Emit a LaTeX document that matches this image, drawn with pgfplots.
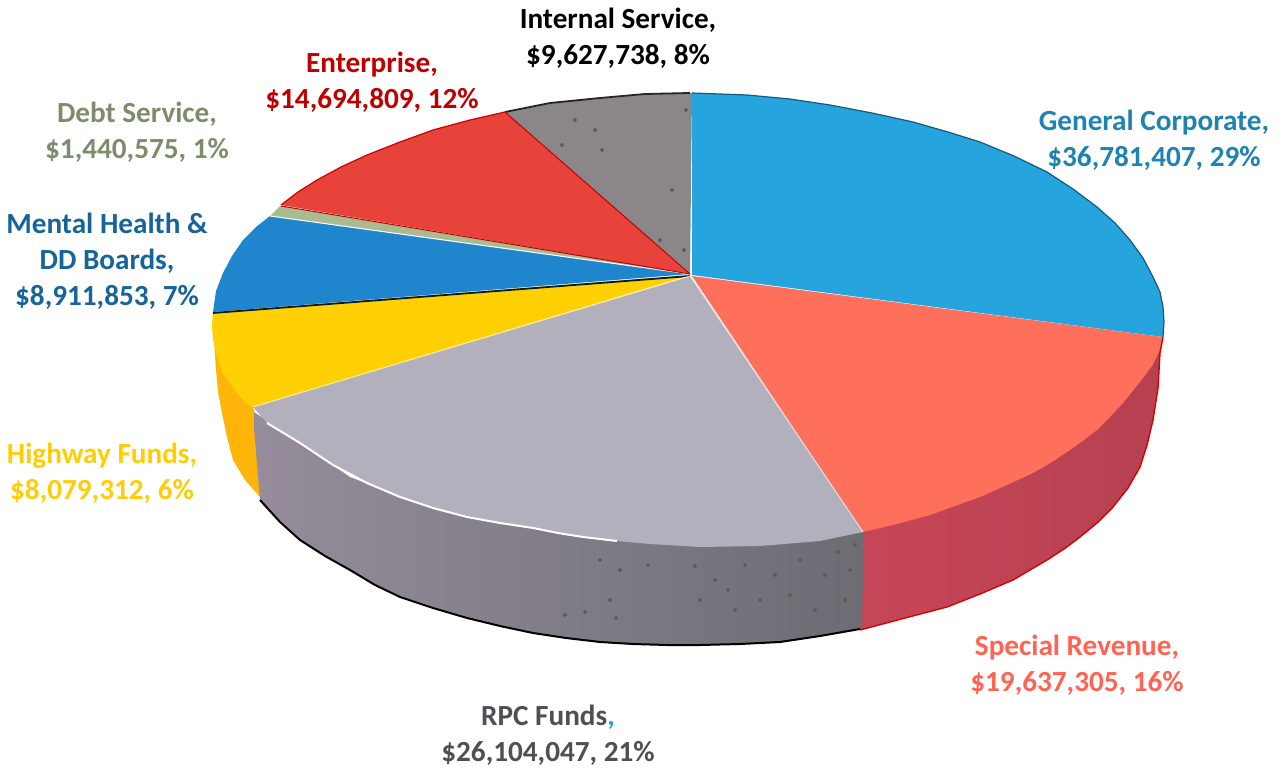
\documentclass[border=0pt]{standalone}
\usepackage{fontspec}
\setmainfont{Carlito}
\usepackage{pgfplots}
\pgfplotsset{compat=1.18}
\definecolor{cblue}{HTML}{25A4DD}
\definecolor{csalmon}{HTML}{FE6F5C}
\definecolor{cred}{HTML}{E8433A}
\definecolor{cgreyd}{HTML}{8B8689}
\definecolor{cgrey}{HTML}{B2B0BC}
\definecolor{cside}{HTML}{C64657}
\definecolor{cyell}{HTML}{FFD105}
\definecolor{corange}{HTML}{FFB40A}
\definecolor{cmh}{HTML}{1F86CE}
\definecolor{cdebt}{HTML}{A9BB8F}
\definecolor{csidel}{HTML}{968C9B}
\definecolor{csidem}{HTML}{8E8592}
\definecolor{csider}{HTML}{6B6D73}
\tikzset{lbl/.style={font=\fontsize{14.6}{18}\selectfont\bfseries, align=center, inner sep=0pt}}
\begin{document}
\begin{tikzpicture}
% everything is in reference pixels, y downwards
\begin{axis}[
  scale only axis, width=643pt, height=385pt,
  xmin=0, xmax=1286, ymin=0, ymax=770, y dir=reverse,
  hide axis, clip=false,
]
\path (axis cs:0,0) rectangle (axis cs:1286,770);
% sides
\addplot[fill=corange, draw=none] coordinates {(214,340) (216,370) (218,392) (222,413) (227,437) (233,460) (245,480) (260,497) (262,440) (253,407) (225,375)} --cycle;
\addplot[shade, left color=cside, right color=cside!92!black, draw=none] coordinates {(1163,337) (1160,353) (1158,388) (1153,420) (1147,445) (1140,467) (1128,488) (1113,507) (1097,523) (1080,537) (1064,549) (1047,560) (1030,570) (1013,580) (980,594) (947,607) (905,618) (860,630) (862,530)} --cycle;
\addplot[shade, left color=csidel, middle color=csidem, right color=csider, draw=none] coordinates {(254,412) (255,440) (260,500) (280,522) (300,540) (325,556) (350,570) (375,585) (400,597) (433,608) (467,618) (500,626) (533,633) (566,638) (600,642) (633,644) (667,645) (700,645) (740,644) (780,642) (820,636) (862,628) (864,530) (780,543) (700,546) (620,540) (500,522) (417,503) (350,477) (300,443)} --cycle;
% top faces
\addplot[fill=cblue, draw=none] coordinates {(692,275) (692,93) (720,94) (747,95) (790,99) (830,105) (872,113) (913,122) (948,132) (980,142) (1014,156) (1047,172) (1073,189) (1097,207) (1115,223) (1130,240) (1143,258) (1153,277) (1160,292) (1163,307) (1164,322) (1163,337)} --cycle;
\addplot[fill=csalmon, draw=none] coordinates {(692,276) (1163,337) (1160,350) (1152,366) (1140,382) (1123,403) (1110,417) (1097,430) (1084,440) (1070,450) (1052,462) (1033,473) (1007,485) (980,497) (955,506) (930,515) (897,524) (863,532)} --cycle;
\addplot[fill=cgrey, draw=none] coordinates {(690,276) (863,532) (820,541) (760,546) (700,547) (650,544) (617,541) (583,537) (558,533) (533,528) (500,523) (467,517) (433,508) (400,497) (367,483) (333,465) (300,443) (267,423) (253,407)} --cycle;
\addplot[fill=cyell, draw=none] coordinates {(690,275) (253,407) (248,405) (236,392) (223,373) (217,357) (213,340) (212,325) (213,312)} --cycle;
\addplot[fill=cmh, draw=none] coordinates {(690,274) (213,312) (216,291) (223,273) (232,256) (243,240) (256,227) (270,216)} --cycle;
\addplot[fill=cdebt, draw=none] coordinates {(690,274) (270,216) (280,206)} --cycle;
\addplot[fill=cred, draw=none] coordinates {(690,274) (281,205) (298,192) (317,180) (341,167) (367,155) (400,142) (433,130) (470,120) (505,112)} --cycle;
\addplot[fill=cgreyd, draw=none] coordinates {(690,274) (505,112) (550,103) (600,98) (645,94) (692,93)} --cycle;
% edges
\addplot[black!85, line width=0.9pt] coordinates {(505,112) (550,103) (600,98) (645,94) (690,93)};
\addplot[black!45!cblue, line width=0.6pt] coordinates {(692,93) (720,94) (747,95) (790,99) (830,105) (872,113) (913,122) (948,132) (980,142) (1014,156) (1047,172) (1073,189) (1097,207) (1115,223) (1130,240) (1143,258) (1153,277) (1160,292) (1163,307) (1164,322) (1163,337)};
\addplot[black!80!cmh, line width=0.9pt] coordinates {(213,313) (690,276)};
\addplot[white!60!cyell, line width=0.5pt] coordinates {(253,407) (690,276)};
\addplot[white!55!cgrey, line width=0.5pt] coordinates {(690,276) (863,532)};
\addplot[white, line width=0.5pt] coordinates {(270,216) (690,274)};
\addplot[red!80!black, line width=0.6pt] coordinates {(281,205) (298,192) (317,180) (341,167) (367,155) (400,142) (433,130) (470,120) (505,112)};
\addplot[red!75!black, line width=0.5pt] coordinates {(281,206) (690,274)};
\addplot[red!75!black, line width=0.5pt] coordinates {(505,112) (690,274)};
\addplot[white, line width=1pt] coordinates {(267,423) (300,443) (333,465) (367,483) (400,497) (433,508) (467,517) (500,523) (533,528) (558,533) (583,537) (617,541)};
\addplot[black, line width=1pt] coordinates {(260,500) (280,522) (300,540) (325,556) (350,570) (375,585) (400,597) (433,608) (467,618) (500,626) (533,633) (566,638) (600,642) (633,644) (667,645) (700,645) (740,644) (780,642) (820,636) (860,629)};
\addplot[red!85!black, line width=0.7pt] coordinates {(1163,337) (1160,353) (1158,388) (1153,420) (1147,445) (1140,467) (1128,488) (1113,507) (1097,523) (1080,537) (1064,549) (1047,560) (1030,570) (1013,580) (980,594) (947,607) (905,618) (860,630)};
% scan specks
\addplot[only marks, mark=*, mark size=0.8pt, black!65] coordinates {(695,566) (715,580) (728,590) (745,565) (760,600) (775,575) (790,595) (800,560) (815,610) (825,575) (838,552) (850,570) (845,600) (855,545) (735,610) (700,600) (648,565) (620,570) (610,600) (616,618) (585,612) (565,615) (600,560) (575,120) (595,130) (602,150) (562,145) (660,240) (684,250) (672,190) (686,110)};
% labels
\node[lbl] at (axis cs:618,38) {Internal Service,\\\$9,627,738, 8\%};
\node[lbl, text=cblue!80!black] at (axis cs:1154,140) {General Corporate,\\\$36,781,407, 29\%};
\node[lbl, text=csalmon!90!red] at (axis cs:1077,665) {Special Revenue,\\\$19,637,305, 16\%};
\node[lbl, text=black!55!cgrey] at (axis cs:548,735) {RPC Funds{\color{cblue},}\\\$26,104,047, 21\%};
\node[lbl, text=cyell!95!orange] at (axis cs:102,473) {Highway Funds,\\\$8,079,312, 6\%};
\node[lbl, text=cmh!75!black] at (axis cs:107,261) {Mental Health \&\\DD Boards,\\\$8,911,853, 7\%};
\node[lbl, text=cdebt!75!black] at (axis cs:137,132) {Debt Service,\\\$1,440,575, 1\%};
\node[lbl, text=red!75!black] at (axis cs:372,82) {Enterprise,\\\$14,694,809, 12\%};
\end{axis}
\end{tikzpicture}
\end{document}
